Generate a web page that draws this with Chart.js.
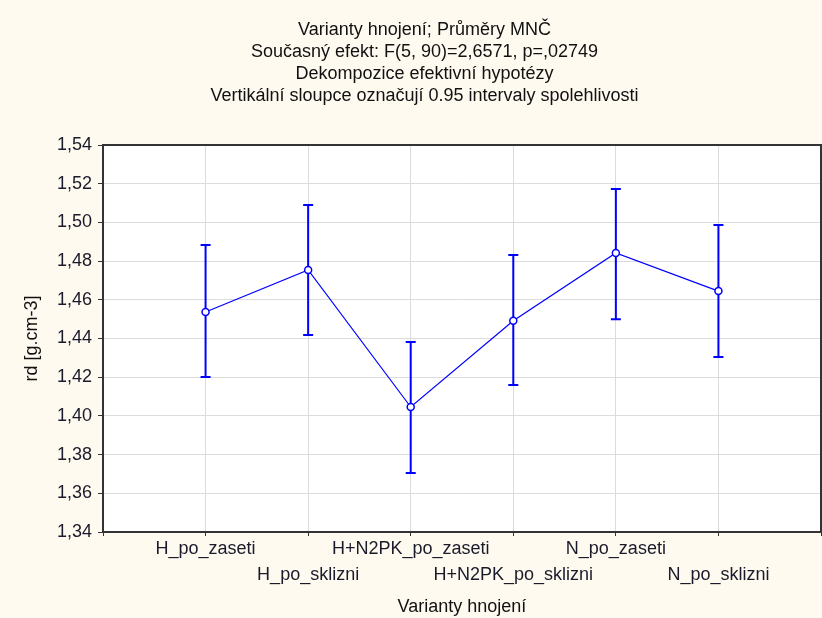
<!DOCTYPE html>
<html>
<head>
<meta charset="utf-8">
<title>Varianty hnojení</title>
<script src="https://cdn.jsdelivr.net/npm/chart.js@4"></script>
<style>
    body { margin: 0; background: #fffaf0; }
    #graf { display: block; }
</style>
</head>
<body>
<canvas id="graf" width="822" height="618"></canvas>
<script>
let kategorie = ['H_po_zaseti', 'H_po_sklizni', 'H+N2PK_po_zaseti', 'H+N2PK_po_sklizni', 'N_po_zaseti', 'N_po_sklizni']
let prumery = [1.4537, 1.4754, 1.4046, 1.4492, 1.4842, 1.4645]
let dolniMez = [1.4201, 1.4418, 1.3705, 1.4160, 1.4500, 1.4304]
let horniMez = [1.4883, 1.5090, 1.4382, 1.4832, 1.5173, 1.4987]
let osaYMin = 1.34
let osaYMax = 1.54
let osaYKrok = 0.02
let nadpis = [
    'Varianty hnojení; Průměry MNČ',
    'Současný efekt: F(5, 90)=2,6571, p=,02749',
    'Dekompozice efektivní hypotézy',
    'Vertikální sloupce označují 0.95 intervaly spolehlivosti'
]
let popisX = 'Varianty hnojení'
let popisY = 'rd [g.cm-3]'

let pismo = 'Liberation Sans, Arial, sans-serif'
let modra = '#0000ff'

// svisle chybove useky (95% intervaly)
let chybovePlugin = {
    id: 'chyby',
    beforeDatasetsDraw(chart) {
        let ctx = chart.ctx
        let x = chart.scales.x
        let y = chart.scales.y
        ctx.save()
        ctx.strokeStyle = modra
        ctx.lineWidth = 2
        for (let i = 0; i < prumery.length; i++) {
            let px = x.getPixelForValue(i + 1)
            let top = y.getPixelForValue(horniMez[i])
            let bot = y.getPixelForValue(dolniMez[i])
            ctx.beginPath()
            ctx.moveTo(px, top)
            ctx.lineTo(px, bot)
            ctx.moveTo(px - 5, top)
            ctx.lineTo(px + 5, top)
            ctx.moveTo(px - 5, bot)
            ctx.lineTo(px + 5, bot)
            ctx.stroke()
        }
        ctx.restore()
    }
}

// bile pozadi grafu a ramecek
let ramecekPlugin = {
    id: 'ramecek',
    beforeDraw(chart) {
        let a = chart.chartArea
        chart.ctx.save()
        chart.ctx.fillStyle = '#ffffff'
        chart.ctx.fillRect(a.left, a.top, a.right - a.left, a.bottom - a.top)
        chart.ctx.restore()
    },
    afterDraw(chart) {
        let a = chart.chartArea
        let ctx = chart.ctx
        ctx.save()
        ctx.strokeStyle = '#333333'
        ctx.lineWidth = 2
        ctx.strokeRect(a.left, a.top, a.right - a.left, a.bottom - a.top)
        ctx.restore()
    }
}

let data = {
    datasets: [{
        data: prumery.map((v, i) => ({ x: i + 1, y: v })),
        showLine: true,
        borderColor: modra,
        borderWidth: 1.2,
        pointRadius: 3.5,
        pointBorderWidth: 1.5,
        pointBackgroundColor: '#ffffff',
        pointBorderColor: modra
    }]
}

let graf = new Chart(document.getElementById('graf'), {
    type: 'scatter',
    data: data,
    plugins: [chybovePlugin, ramecekPlugin],
    options: {
        responsive: false,
        devicePixelRatio: 1,
        animation: false,
        layout: { autoPadding: false, padding: { left: 28, right: 1, top: 0, bottom: 0 } },
        plugins: {
            legend: { display: false },
            tooltip: { enabled: false },
            title: {
                display: true,
                text: nadpis,
                color: '#111111',
                font: { family: pismo, size: 18, weight: 'normal', lineHeight: 22 / 18 },
                padding: { top: 19, bottom: 38 }
            }
        },
        scales: {
            x: {
                type: 'linear',
                min: 0,
                max: kategorie.length + 1,
                afterFit: s => {
                    s.height = 86
                    s.paddingRight = 0
                    s.paddingLeft = 0
                },
                afterBuildTicks: s => {
                    s.ticks = []
                    for (let i = 0; i <= kategorie.length + 1; i++) s.ticks.push({ value: i })
                },
                ticks: {
                    autoSkip: false,
                    maxRotation: 0,
                    padding: 0,
                    color: '#1a1a2a',
                    font: { family: pismo, size: 18, lineHeight: 26 / 18 },
                    callback: v => {
                        if (v < 1 || v > kategorie.length) return ''
                        let i = v - 1
                        return i % 2 === 0 ? kategorie[i] : ['', kategorie[i]]
                    }
                },
                grid: { color: '#dcdcdc', tickColor: '#333333', tickLength: 4 },
                border: { color: '#333333', width: 2 },
                title: {
                    display: true,
                    text: popisX,
                    color: '#111111',
                    font: { family: pismo, size: 18 },
                    padding: 0
                }
            },
            y: {
                min: osaYMin,
                max: osaYMax,
                afterFit: s => { s.width = 75 },
                ticks: {
                    stepSize: osaYKrok,
                    padding: 6,
                    color: '#1a1a2a',
                    font: { family: pismo, size: 18 },
                    callback: v => v.toFixed(2).replace('.', ',')
                },
                grid: { color: '#dcdcdc', tickColor: '#333333', tickLength: 5 },
                border: { color: '#333333', width: 2 },
                title: {
                    display: true,
                    text: popisY,
                    color: '#111111',
                    font: { family: pismo, size: 18 },
                    padding: { top: -7, bottom: 0 }
                }
            }
        }
    }
})
</script>
</body>
</html>
